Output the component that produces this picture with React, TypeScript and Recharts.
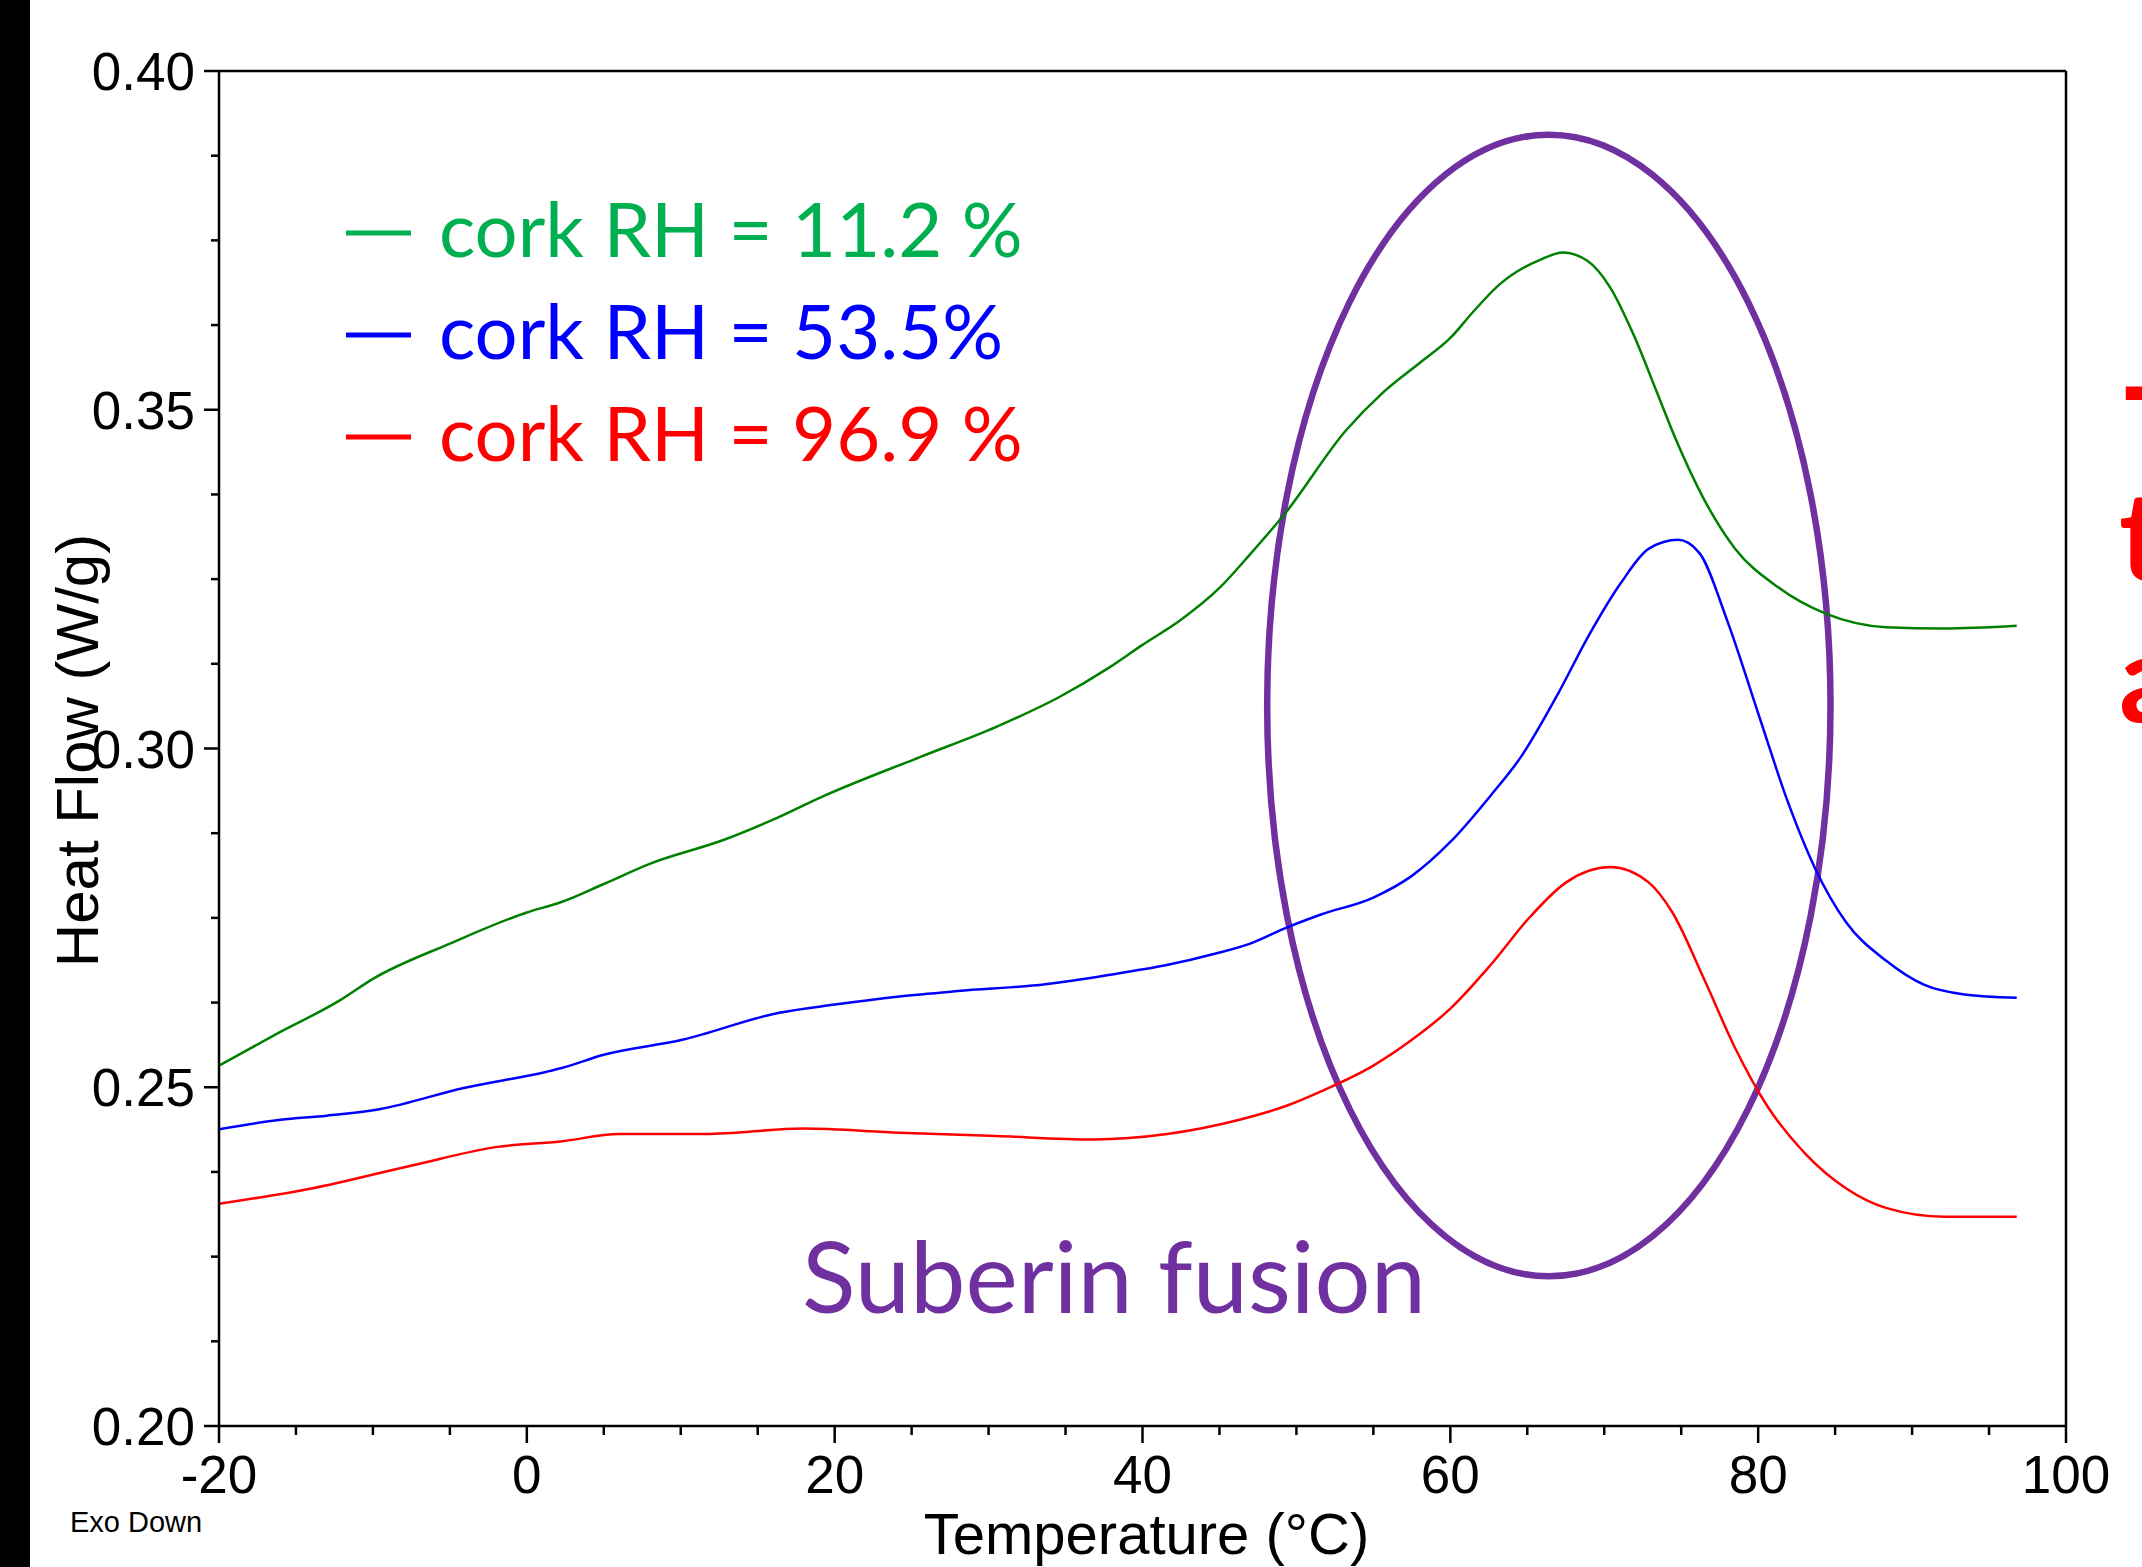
import { LineChart, Line, XAxis, YAxis, ReferenceArea, ReferenceLine, Legend, Label } from "recharts";

// DSC scans of cork at three relative humidities
const X_TICKS = [-20, -15, -10, -5, 0, 5, 10, 15, 20, 25, 30, 35, 40, 45, 50, 55, 60, 65, 70, 75, 80, 85, 90, 95, 100];
const Y_TICKS = [
  0.2, 0.2125, 0.225, 0.2375, 0.25, 0.2625, 0.275, 0.2875, 0.3,
  0.3125, 0.325, 0.3375, 0.35, 0.3625, 0.375, 0.3875, 0.4,
];

const RH11_TEMP = [-20, -16.4, -12.1, -10, -5, 0, 2.2, 5, 7.9, 12.9, 16, 19.2, 25.5, 30.5, 34.6, 37.8, 40, 42.5, 45, 47, 49.3, 53.2, 55.6, 58, 60, 61.5, 63.2, 65.9, 67.3, 68.9, 70.4, 71.9, 73.4, 74.6, 76.5, 78.5, 81.3, 84.4, 88.3, 92.1, 96.8];
const RH11_FLOW = [0.2532, 0.2577, 0.2629, 0.266, 0.2712, 0.2758, 0.2773, 0.28, 0.2829, 0.2866, 0.2895, 0.2929, 0.2987, 0.3032, 0.3076, 0.3119, 0.3153, 0.319, 0.3237, 0.3287, 0.3348, 0.3469, 0.3525, 0.3569, 0.3606, 0.3645, 0.3685, 0.3722, 0.3732, 0.372, 0.368, 0.3611, 0.3527, 0.3459, 0.3367, 0.3295, 0.3238, 0.3199, 0.3179, 0.3177, 0.3181];

const RH53_TEMP = [-20, -16, -13, -9.5, -4.1, 1.3, 2.2, 5, 10.1, 16.4, 20, 24.2, 28, 33.7, 38.4, 41.5, 44.7, 47, 49.4, 51.6, 55, 57.5, 60, 62.6, 64.6, 67, 69, 71.1, 72.9, 74.8, 76.2, 78, 80.1, 81.9, 83.7, 85.7, 88.3, 90.8, 93.4, 96.8];
const RH53_FLOW = [0.2438, 0.2452, 0.2458, 0.2468, 0.2499, 0.2523, 0.2528, 0.2548, 0.257, 0.261, 0.2622, 0.2634, 0.2642, 0.2652, 0.2668, 0.268, 0.2697, 0.2712, 0.2736, 0.2755, 0.278, 0.2812, 0.2862, 0.293, 0.2988, 0.3081, 0.3167, 0.3245, 0.3295, 0.3308, 0.3288, 0.3188, 0.3045, 0.2923, 0.2823, 0.2744, 0.2687, 0.2651, 0.2637, 0.2632];

const RH97_TEMP = [-20, -13.9, -7.4, -1.9, 2.2, 6, 11.6, 17.9, 24.2, 30.5, 36.8, 41.6, 46.3, 49.4, 51.6, 55, 57.5, 60, 62.6, 65.2, 67.5, 70.4, 72.9, 74.4, 76.5, 78.5, 80.6, 83.1, 85.7, 88.3, 92.1, 96.8];
const RH97_FLOW = [0.2328, 0.2351, 0.2385, 0.2412, 0.242, 0.2431, 0.2431, 0.2439, 0.2433, 0.2428, 0.2423, 0.2431, 0.2452, 0.2473, 0.2494, 0.2532, 0.257, 0.2616, 0.268, 0.2752, 0.2802, 0.2825, 0.2802, 0.2759, 0.2659, 0.2558, 0.2472, 0.2401, 0.2351, 0.2322, 0.2309, 0.2309];

const SERIES = [
  { key: "rh11", label: "cork RH = 11.2 %", line: "#008000", text: "#00B050", temp: RH11_TEMP, flow: RH11_FLOW },
  { key: "rh53", label: "cork RH = 53.5%", line: "#0000FF", text: "#0000FF", temp: RH53_TEMP, flow: RH53_FLOW },
  { key: "rh97", label: "cork RH = 96.9 %", line: "#FF0000", text: "#FF0000", temp: RH97_TEMP, flow: RH97_FLOW },
];

// ellipse around the suberin melting region (temperature / heat flow bounds)
const FUSION_ZONE = { t1: 48.1, t2: 84.7, f1: 0.2221, f2: 0.3906 };

const ARIAL = "'Liberation Sans', Arial, sans-serif";
const CALIBRI = "Lato, 'Open Sans', sans-serif";

function YTick(props: any) {
  const { x, y, payload } = props;
  const v = payload.value;
  const major = Math.abs(v * 20 - Math.round(v * 20)) < 1e-6;
  return (
    <g>
      <line x1={x - (major ? 15 : 8)} x2={x} y1={y} y2={y} stroke="#000" strokeWidth={2.5} />
      {major && (
        <text x={x - 24} y={y + 19} textAnchor="end" fontSize={53} fontFamily={ARIAL} fill="#000">
          {v.toFixed(2)}
        </text>
      )}
    </g>
  );
}

function XTick(props: any) {
  const { x, y, payload } = props;
  const v = payload.value;
  const major = v % 20 === 0;
  return (
    <g>
      <line x1={x} x2={x} y1={y} y2={y + (major ? 17 : 9)} stroke="#000" strokeWidth={2.5} />
      {major && (
        <text x={x} y={y + 67} textAnchor="middle" fontSize={53} fontFamily={ARIAL} fill="#000">
          {v}
        </text>
      )}
    </g>
  );
}

function LegendBox() {
  return (
    <svg width={720} height={340} style={{ display: "block", overflow: "visible" }}>
      {SERIES.map((s, i) => (
        <g key={s.key}>
          <line x1={0} x2={65} y1={83 + i * 102} y2={83 + i * 102} stroke={s.text} strokeWidth={5} />
          <text x={93} y={107 + i * 102} fill={s.text} fontSize={76} fontFamily={CALIBRI}>
            {s.label}
          </text>
        </g>
      ))}
    </svg>
  );
}

export default function App() {
  return (
    <div style={{ position: "relative", width: 2142, height: 1567, background: "#fff", overflow: "hidden" }}>
      <style>{`body{margin:0;overflow:hidden}`}</style>
      <LineChart width={2142} height={1567} margin={{ top: 71, right: 76, left: 0, bottom: 0 }}>
        <XAxis
          dataKey="temp"
          type="number"
          domain={[-20, 100]}
          ticks={X_TICKS}
          interval={0}
          tickSize={0}
          tickMargin={0}
          tickLine={false}
          tick={<XTick />}
          height={141}
          axisLine={{ stroke: "#000", strokeWidth: 2.5 }}
          allowDataOverflow
        >
          <Label
            content={(p: any) => (
              <text
                x={p.viewBox.x + p.viewBox.width / 2 + 4}
                y={p.viewBox.y + 128}
                textAnchor="middle"
                fontSize={58}
                fontFamily={ARIAL}
                fill="#000"
              >
                Temperature (°C)
              </text>
            )}
          />
        </XAxis>
        <YAxis
          type="number"
          domain={[0.2, 0.4]}
          ticks={Y_TICKS}
          interval={0}
          tickSize={0}
          tickMargin={0}
          tickLine={false}
          tick={<YTick />}
          width={219}
          axisLine={{ stroke: "#000", strokeWidth: 2.5 }}
          allowDataOverflow
        >
          <Label
            content={(p: any) => {
              const cx = p.viewBox.x + 98;
              const cy = p.viewBox.y + p.viewBox.height / 2 + 2;
              return (
                <text
                  x={cx}
                  y={cy}
                  transform={`rotate(-90, ${cx}, ${cy})`}
                  textAnchor="middle"
                  fontSize={60}
                  fontFamily={ARIAL}
                  fill="#000"
                >
                  Heat Flow (W/g)
                </text>
              );
            }}
          />
        </YAxis>
        <ReferenceLine y={0.4} stroke="#000" strokeWidth={2.5} />
        <ReferenceLine x={100} stroke="#000" strokeWidth={2.5} />
        {SERIES.map((s) => (
          <Line
            key={s.key}
            name={s.label}
            data={s.temp.map((t, i) => ({ temp: t, flow: s.flow[i] }))}
            dataKey="flow"
            type="monotone"
            stroke={s.line}
            strokeWidth={2.5}
            dot={false}
            activeDot={false}
            isAnimationActive={false}
          />
        ))}
        <ReferenceArea
          x1={FUSION_ZONE.t1}
          x2={FUSION_ZONE.t2}
          y1={FUSION_ZONE.f1}
          y2={FUSION_ZONE.f2}
          ifOverflow="visible"
          shape={(p: any) => (
            <ellipse
              cx={p.x + p.width / 2}
              cy={p.y + p.height / 2}
              rx={p.width / 2}
              ry={p.height / 2}
              fill="none"
              stroke="#7030A0"
              strokeWidth={6.5}
            />
          )}
        />
        <Legend
          layout="horizontal"
          verticalAlign="middle"
          align="center"
          content={<LegendBox />}
          wrapperStyle={{ position: "absolute", left: 346, top: 150, width: 720, height: 340 }}
        />
      </LineChart>
      <svg
        width={2142}
        height={1567}
        style={{ position: "absolute", left: 0, top: 0, pointerEvents: "none" }}
      >
        <rect x={0} y={0} width={30} height={1567} fill="#000" />
        <text x={1114} y={1313} textAnchor="middle" fontSize={99} fontFamily={CALIBRI} fill="#7030A0">
          Suberin fusion
        </text>
        <text x={70} y={1532} fontSize={29} fontFamily={ARIAL} fill="#000">
          Exo Down
        </text>
        <g fill="#FF0000" fontSize={122} fontWeight={700} fontFamily={CALIBRI}>
          <text x={2124} y={475}>T</text>
          <text x={2119} y={580}>t</text>
          <text x={2119} y={722}>a</text>
        </g>
      </svg>
    </div>
  );
}
